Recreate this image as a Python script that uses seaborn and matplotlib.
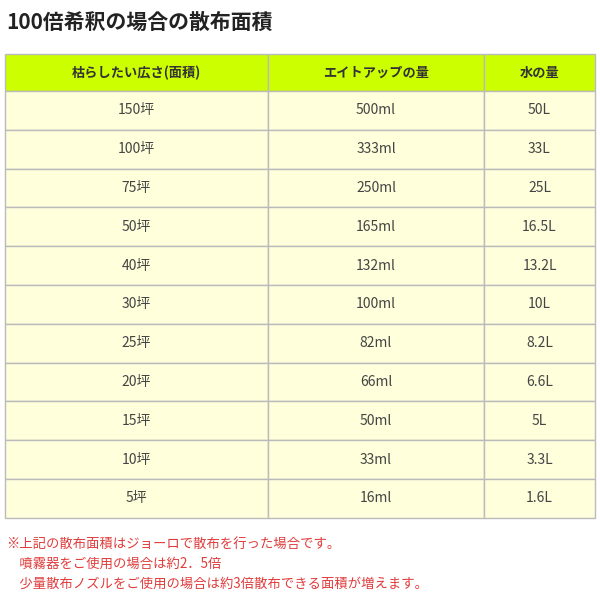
import matplotlib
matplotlib.use('Agg')
import matplotlib.pyplot as plt
import seaborn as sns
from matplotlib.patches import Rectangle

sns.set_theme(style='white')
plt.rcParams['font.family'] = ['Noto Sans CJK JP', 'DejaVu Sans']

title = '100倍希釈の場合の散布面積'
headers = ['枯らしたい広さ(面積)', 'エイトアップの量', '水の量']
area = ['150坪', '100坪', '75坪', '50坪', '40坪', '30坪', '25坪', '20坪', '15坪', '10坪', '5坪']
eightup = ['500ml', '333ml', '250ml', '165ml', '132ml', '100ml', '82ml', '66ml', '50ml', '33ml', '16ml']
water = ['50L', '33L', '25L', '16.5L', '13.2L', '10L', '8.2L', '6.6L', '5L', '3.3L', '1.6L']
notes = ['※上記の散布面積はジョーロで散布を行った場合です。',
         '　噴霧器をご使用の場合は約2．5倍',
         '　少量散布ノズルをご使用の場合は約3倍散布できる面積が増えます。']

col_edges = [5, 268, 484, 595]
top, head_h, row_h = 54, 37, 38.8

fig = plt.figure(figsize=(6, 6), dpi=100)
ax = fig.add_axes([0, 0, 1, 1])
ax.set_xlim(0, 600)
ax.set_ylim(600, 0)
ax.axis('off')

ax.text(6, 22, title, fontsize=15, fontweight='bold', va='center', ha='left', color='#222222')

columns = [area, eightup, water]
for c in range(3):
    x0, x1 = col_edges[c], col_edges[c + 1]
    ax.add_patch(Rectangle((x0, top), x1 - x0, head_h, facecolor='#ccff00', edgecolor='#bbbbbb', lw=1))
    ax.text((x0 + x1) / 2, top + head_h / 2, headers[c], ha='center', va='center',
            fontsize=9.5, fontweight='bold', color='#333333')
    for r, val in enumerate(columns[c]):
        y0 = top + head_h + r * row_h
        ax.add_patch(Rectangle((x0, y0), x1 - x0, row_h, facecolor='#ffffdc', edgecolor='#bbbbbb', lw=1))
        ax.text((x0 + x1) / 2, y0 + row_h / 2, val, ha='center', va='center',
                fontsize=10, color='#444444')

for i, line in enumerate(notes):
    ax.text(6, 544 + i * 20, line, ha='left', va='center', fontsize=9.6, color='#e03c3c')

fig.savefig('out.png', dpi=100, facecolor='white')
